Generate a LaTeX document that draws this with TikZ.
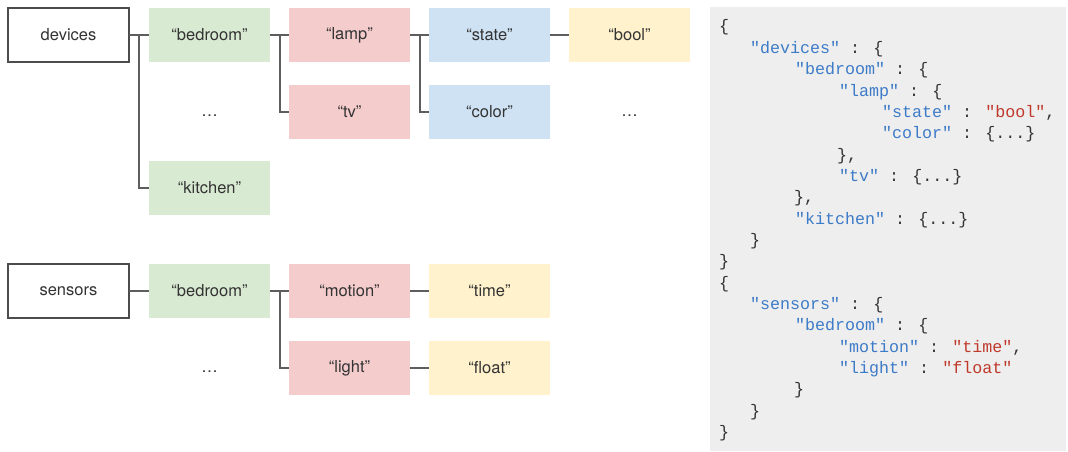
\documentclass[tikz,border=0pt]{standalone}
\usepackage{fontspec}
\setmainfont{TeX Gyre Heros}
\newfontfamily\codefont{Liberation Mono}
\definecolor{gbox}{HTML}{D9EAD3}
\definecolor{rbox}{HTML}{F4CCCC}
\definecolor{bbox}{HTML}{CFE2F3}
\definecolor{ybox}{HTML}{FFF2CC}
\definecolor{txt}{HTML}{333333}
\definecolor{connc}{HTML}{5E5E5E}
\definecolor{panelc}{HTML}{EEEEEE}
\definecolor{keyc}{HTML}{3D7BC8}
\definecolor{valc}{HTML}{C0392B}
\definecolor{punc}{HTML}{333333}
\tikzset{
  box/.style={minimum width=121pt, minimum height=54pt, inner sep=0pt, outer sep=0pt,
    font=\fontsize{16.5}{20}\selectfont, text=txt},
  rootbox/.style={box, draw=black!70, line width=1.4pt, fill=white},
  gnode/.style={box, fill=gbox},
  rnode/.style={box, fill=rbox},
  bnode/.style={box, fill=bbox},
  ynode/.style={box, fill=ybox},
  dotsnode/.style={inner sep=0pt, font=\fontsize{16.5}{20}\selectfont, text=txt},
  connector/.style={draw=connc, line width=2pt},
  codeline/.style={anchor=base west, inner sep=0pt, outer sep=0pt,
    font=\codefont\fontsize{16.67}{20}\selectfont, text=punc},
}
\newcommand{\kk}[1]{\textcolor{keyc}{#1}}
\newcommand{\vv}[1]{\textcolor{valc}{#1}}
\begin{document}
\begin{tikzpicture}[x=1pt,y=-1pt]
\useasboundingbox (0,0) rectangle (1068,452);
% code panel
\fill[panelc] (710,7) rectangle (1066,451);

% tree: devices
\node[rootbox] (devices) at (68.5,35) {devices};
\node[gnode] (bed1) at (209.5,35) {“bedroom”};
\node[dotsnode] (dots1) at (209.5,116) {…};
\node[gnode] (kitchen) at (209.5,188) {“kitchen”};
\node[rnode] (lamp) at (349.5,35) {“lamp”};
\node[rnode] (tv) at (349.5,111.5) {“tv”};
\node[bnode] (state) at (489.5,35) {“state”};
\node[bnode] (color) at (489.5,111.5) {“color”};
\node[ynode] (bool) at (629.5,35) {“bool”};
\node[dotsnode] (dots2) at (629.5,116) {…};

\draw[connector] (devices.east) -- (bed1.west);
\draw[connector] (devices.east) ++(9.5,0) |- (kitchen.west);
\draw[connector] (bed1.east) -- (lamp.west);
\draw[connector] (bed1.east) ++(9.5,0) |- (tv.west);
\draw[connector] (lamp.east) -- (state.west);
\draw[connector] (lamp.east) ++(9.5,0) |- (color.west);
\draw[connector] (state.east) -- (bool.west);

% tree: sensors
\node[rootbox] (sensors) at (68.5,291) {sensors};
\node[gnode] (bed2) at (209.5,291) {“bedroom”};
\node[dotsnode] (dots3) at (209.5,372) {…};
\node[rnode] (motion) at (349.5,291) {“motion”};
\node[rnode] (light) at (349.5,368) {“light”};
\node[ynode] (time) at (489.5,291) {“time”};
\node[ynode] (float) at (489.5,368) {“float”};

\draw[connector] (sensors.east) -- (bed2.west);
\draw[connector] (bed2.east) -- (motion.west);
\draw[connector] (bed2.east) ++(9.5,0) |- (light.west);
\draw[connector] (motion.east) -- (time.west);
\draw[connector] (light.east) -- (float.west);

% code
\node[codeline] (c0)  at (719,32.0)  {\{};
\node[codeline] (c1)  at (750,53.3)  {\kk{"devices"} : \{};
\node[codeline] (c2)  at (795,74.7)  {\kk{"bedroom"} : \{};
\node[codeline] (c3)  at (839,96.0)  {\kk{"lamp"} : \{};
\node[codeline] (c4)  at (882,117.3) {\kk{"state"} : \vv{"bool"},};
\node[codeline] (c5)  at (882,138.7) {\kk{"color"} : \{...\}};
\node[codeline] (c6)  at (837,160.0) {\},};
\node[codeline] (c7)  at (839,181.3) {\kk{"tv"} : \{...\}};
\node[codeline] (c8)  at (794,202.7) {\},};
\node[codeline] (c9)  at (795,224.0) {\kk{"kitchen"} : \{...\}};
\node[codeline] (c10) at (750,245.3) {\}};
\node[codeline] (c11) at (719,266.7) {\}};
\node[codeline] (c12) at (719,288.0) {\{};
\node[codeline] (c13) at (750,309.3) {\kk{"sensors"} : \{};
\node[codeline] (c14) at (795,330.7) {\kk{"bedroom"} : \{};
\node[codeline] (c15) at (839,352.0) {\kk{"motion"} : \vv{"time"},};
\node[codeline] (c16) at (839,373.3) {\kk{"light"} : \vv{"float"}};
\node[codeline] (c17) at (794,394.7) {\}};
\node[codeline] (c18) at (750,416.0) {\}};
\node[codeline] (c19) at (719,437.3) {\}};
\end{tikzpicture}
\end{document}
